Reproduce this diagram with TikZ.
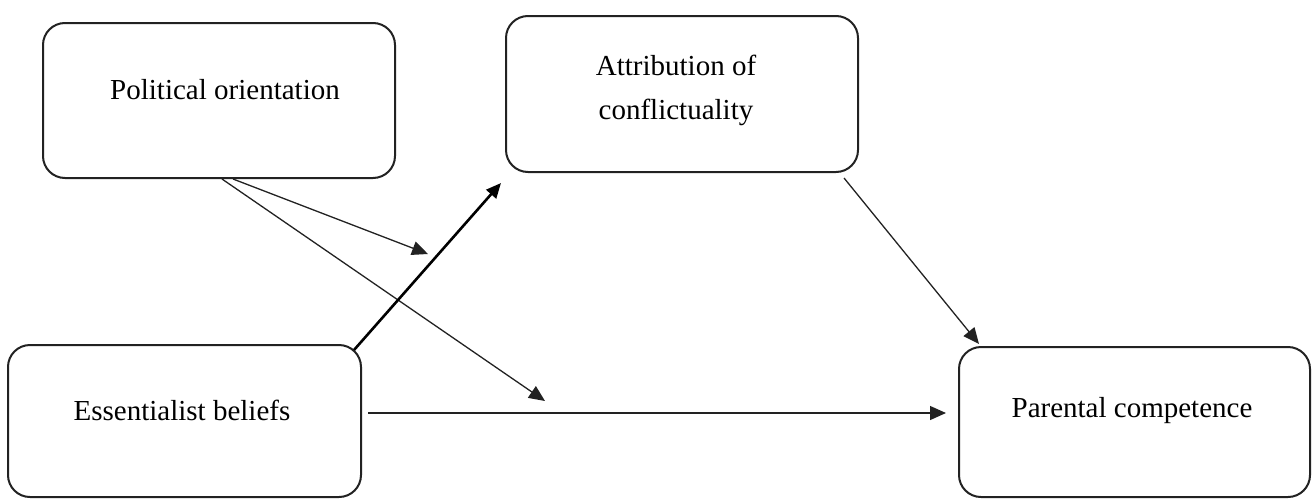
\documentclass[tikz,border=0pt]{standalone}
\usepackage{fontspec}
\setmainfont{Liberation Serif}
\usetikzlibrary{arrows.meta}
\definecolor{edge}{HTML}{222222}
\tikzset{
  box/.style={draw=edge, line width=2pt, rounded corners=22pt, inner sep=0pt},
  lbl/.style={font=\fontsize{29}{44}\selectfont, align=center, inner sep=0pt, text=black},
  thin/.style={draw=edge, line width=1.3pt, -{Triangle[length=16pt,width=14pt]}},
  thick/.style={draw=black, line width=2.6pt, -{Triangle[length=15pt,width=13pt]}}
}
\begin{document}
\begin{tikzpicture}[x=1pt,y=-1pt]
\useasboundingbox (0,0) rectangle (1313,498);
% boxes
\node[box, minimum width=352pt, minimum height=155pt] (pol) at (219,100.5) {};
\node[box, minimum width=352pt, minimum height=156pt] (attr) at (682,94) {};
\node[box, minimum width=353pt, minimum height=152pt] (ess) at (184.5,421) {};
\node[box, minimum width=351pt, minimum height=150pt] (par) at (1134.5,422) {};
% labels
\node[lbl] (poltxt) at (225,90) {Political orientation};
\node[lbl] (attrtxt) at (676,90) {Attribution of\\conflictuality};
\node[lbl] (esstxt) at (182,410) {Essentialist beliefs};
\node[lbl] (partxt) at (1132,411) {Parental competence};
% free ends
\coordinate (m1) at (428,254);
\coordinate (m2) at (545,401);
% connectors
\draw[thin] ([xshift=14pt]pol.south) -- (m1);
\draw[thin] ([xshift=3pt]pol.south) -- (m2);
\draw[thick] ([xshift=-8pt,yshift=-6pt]ess.north east) -- ([xshift=-4pt,yshift=-10pt]attr.south west);
\draw[thin] ([xshift=-15pt,yshift=-5pt]attr.south east) -- ([xshift=21pt,yshift=2pt]par.north west);
\draw[thin] ([xshift=6pt,yshift=8pt]ess.east) -- ([xshift=-12pt,yshift=9pt]par.west);
\end{tikzpicture}
\end{document}
